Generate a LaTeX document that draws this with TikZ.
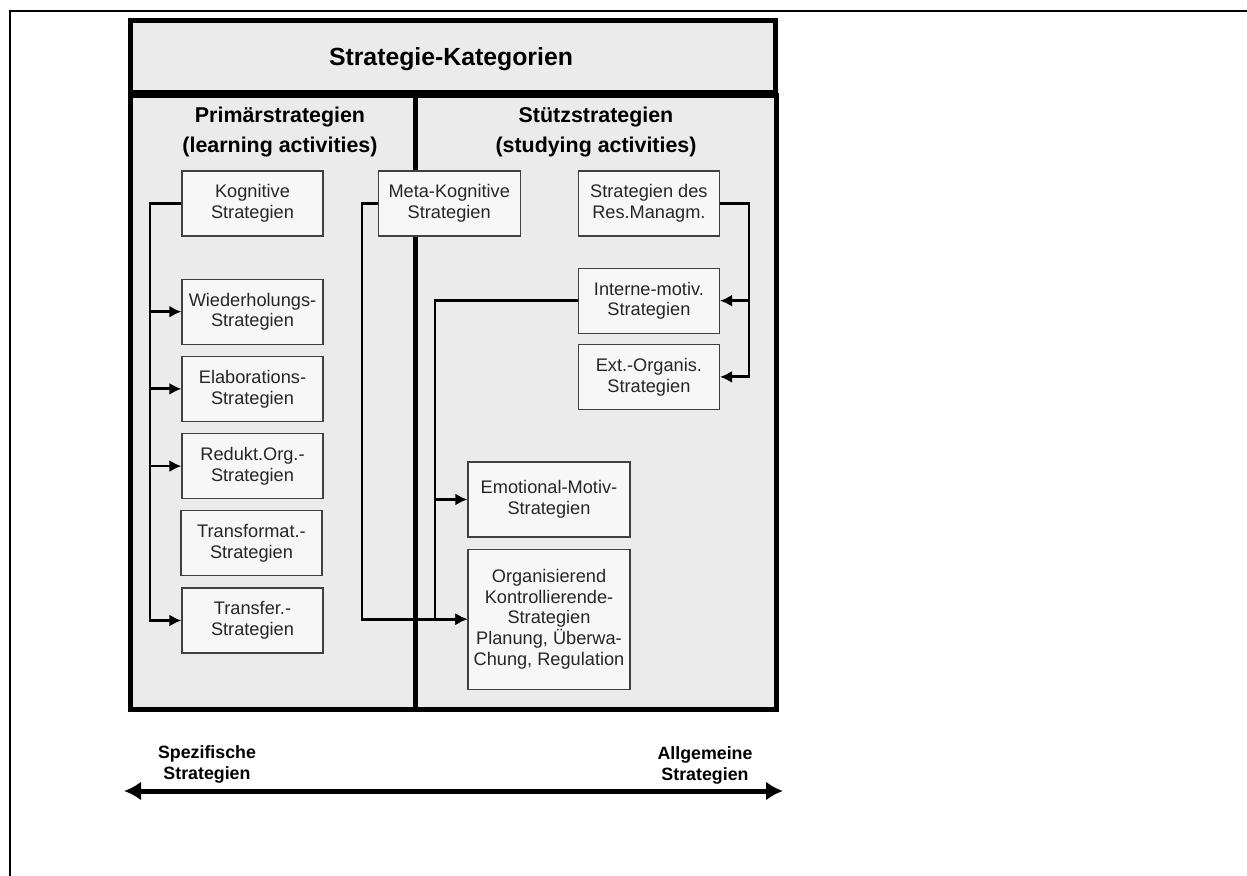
\documentclass[tikz,border=0pt]{standalone}
\usepackage{fontspec}
\setmainfont{Liberation Sans}
\usetikzlibrary{arrows.meta, positioning}
\tikzstyle{panel}=[draw, line width=2.5pt, fill=black!8, inner sep=0pt]
\tikzstyle{strat}=[draw=black!75, fill=black!3, line width=0.6pt, text=black!85, align=center, inner sep=0pt, minimum width=70.5pt, minimum height=32.5pt, font=\fontsize{9.1}{10.4}\selectfont]
\tikzstyle{conn}=[line width=1.4pt, -{Latex[length=6pt, width=6pt]}]
\tikzstyle{head}=[align=center, font=\fontsize{10.7}{15}\selectfont\bfseries]
\tikzstyle{scalelabel}=[align=center, font=\fontsize{8.9}{10.5}\selectfont\bfseries]

\begin{document}
\begin{tikzpicture}[x=0.5pt, y=-0.5pt]
\useasboundingbox (0,0) rectangle (1247,876);
\draw[line width=0.8pt] (10,876) -- (10,11) -- (1247,11);

% panels
\node[panel, minimum width=142.25pt, minimum height=306.75pt] (primpanel) at (272.75,402.75) {};
\node[panel, minimum width=180.75pt, minimum height=306.75pt] (stuetzpanel) at (595.75,402.75) {};
\node[panel, minimum width=322.5pt, minimum height=36.25pt] (title) at (453,56.75) {};
\node[font=\fontsize{12.4}{14}\selectfont\bfseries] (titletext) at (451,59) {Strategie-Kategorien};
\node[head] (primhead) at (280,132) {Primärstrategien\\(learning activities)};
\node[head] (stuetzhead) at (596,132) {Stützstrategien\\(studying activities)};

% primary strategies
\node[strat] (kog) at (252.5,203.5) {Kognitive\\Strategien};
\node[strat, below = 21pt of kog] (wied) {Wiederholungs-\\Strategien};
\node[strat, below = 5.5pt of wied] (elab) {Elaborations-\\Strategien};
\node[strat, below = 5.5pt of elab] (redukt) {Redukt.Org.-\\Strategien};
\node[strat, below = 5.5pt of redukt, xshift=-0.5pt] (transf) {Transformat.-\\Strategien};
\node[strat, below = 5.5pt of transf, xshift=0.5pt] (transfer) {Transfer.-\\Strategien};

% support strategies
\node[strat, right = 27pt of kog, minimum width=71pt] (meta) {Meta-Kognitive\\Strategien};
\node[strat, right = 28.5pt of meta] (res) {Strategien des\\Res.Managm.};
\node[strat, below = 15.5pt of res] (intmot) {Interne-motiv.\\Strategien};
\node[strat, below = 5pt of intmot] (extorg) {Ext.-Organis.\\Strategien};
\node[strat, minimum width=81pt, minimum height=37.5pt] (emot) at (549,499.5) {Emotional-Motiv-\\Strategien};
\node[strat, below = 5.5pt of emot, minimum width=81pt, minimum height=70pt] (orga) {Organisierend\\Kontrollierende-\\Strategien\\Planung, Überwa-\\Chung, Regulation};

\coordinate (kbus) at (150,0);
\coordinate (mbus) at (362,0);
\coordinate (ibus) at (435,0);
\coordinate (rbus) at (749,0);

\draw[conn] (kog.west) -- (kog.west -| kbus) |- (transfer.west);
\foreach \n in {wied, elab, redukt}
  \draw[conn] (kbus |- \n.west) -- (\n.west);
\draw[conn] (meta.west) -- (meta.west -| mbus) |- (orga.west);
\draw[conn] (intmot.west) -- (intmot.west -| ibus) |- (orga.west);
\draw[conn] (ibus |- emot.west) -- (emot.west);
\draw[conn] (res.east) -- (res.east -| rbus) |- (extorg.east);
\draw[conn] (rbus |- intmot.east) -- (intmot.east);

% scale
\node[scalelabel] (spec) at (207,764) {Spezifische\\Strategien};
\node[scalelabel] (allg) at (705,765) {Allgemeine\\Strategien};
\coordinate (specend) at (124,791);
\coordinate (allgend) at (783,791);
\draw[line width=2.5pt, {Latex[length=8.5pt, width=9.5pt]}-{Latex[length=8.5pt, width=9.5pt]}] (specend) -- (allgend);
\end{tikzpicture}
\end{document}
